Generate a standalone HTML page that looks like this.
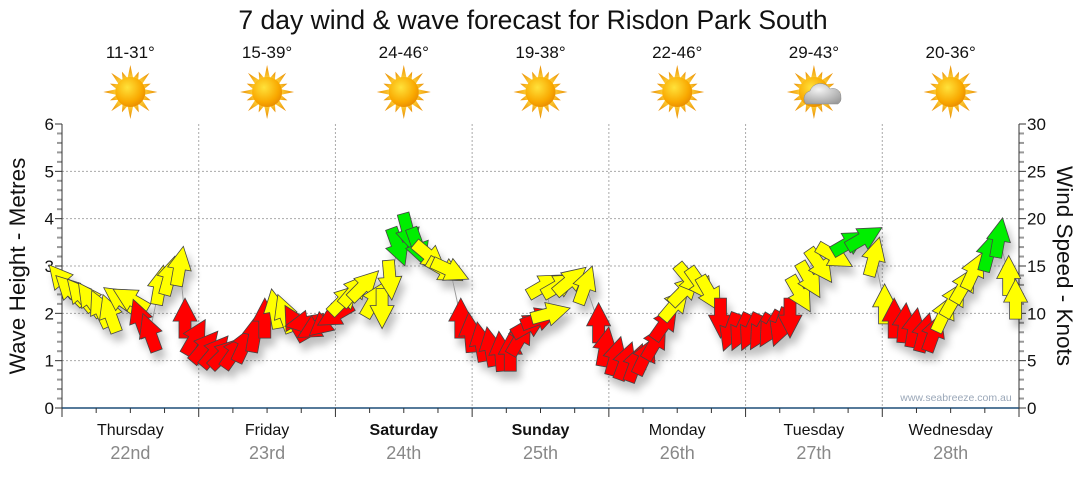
<!DOCTYPE html>
<html><head><meta charset="utf-8"><style>
body{margin:0;background:#fff;font-family:"Liberation Sans",sans-serif}
svg text{font-family:"Liberation Sans",sans-serif}
</style></head><body>
<svg id="c" width="1080" height="475" viewBox="0 0 1080 475" xmlns="http://www.w3.org/2000/svg">
<defs>
<filter id="sh" x="-50%" y="-50%" width="200%" height="200%"><feGaussianBlur in="SourceAlpha" stdDeviation="4"/><feOffset dx="4" dy="8"/><feComponentTransfer><feFuncA type="linear" slope="0.25"/></feComponentTransfer><feMerge><feMergeNode/><feMergeNode in="SourceGraphic"/></feMerge></filter>
<radialGradient id="sun" cx="0.4" cy="0.35" r="0.7"><stop offset="0" stop-color="#ffe23a"/><stop offset="0.7" stop-color="#f9a800"/><stop offset="1" stop-color="#e88a00"/></radialGradient>
<linearGradient id="ray" x1="0" y1="0" x2="0" y2="1"><stop offset="0" stop-color="#e88a00"/><stop offset="1" stop-color="#ffd23a"/></linearGradient>
<radialGradient id="cloud" cx="0.4" cy="0.3" r="0.8"><stop offset="0" stop-color="#f4f4f4"/><stop offset="1" stop-color="#9a9a9a"/></radialGradient>
</defs>
<text x="533" y="29" font-size="26.5" text-anchor="middle" fill="#111">7 day wind &amp; wave forecast for Risdon Park South</text>
<g id="grid"></g><g id="axes"></g><g id="marks" filter="url(#sh)"></g><g id="top"></g>
<text x="956" y="401" font-size="10.5" fill="#9aa7b8" text-anchor="middle">www.seabreeze.com.au</text>
<text transform="translate(25,266) rotate(-90)" font-size="22.5" text-anchor="middle" fill="#111">Wave Height - Metres</text>
<text transform="translate(1057,266) rotate(90)" font-size="22.5" text-anchor="middle" fill="#111">Wind Speed - Knots</text>
</svg>
<script>
const days=["Thursday","Friday","Saturday","Sunday","Monday","Tuesday","Wednesday"];
const dates=["22nd","23rd","24th","25th","26th","27th","28th"];
const temps=["11-31°","15-39°","24-46°","19-38°","22-46°","29-43°","20-36°"];
const cloudy=[false,false,false,false,false,true,false];
const boldDays=[false,false,true,true,false,false,false];
const leftTicks=[0,1,2,3,4,5,6];
const rightTicks=[0,5,10,15,20,25,30];
// wind time (hours from start), speed (knots), arrow direction (deg, 0=up)
const hours=[0,1.4,3.2,4.9,6.7,8.4,10.2,12,13.7,15.4,17.2,18.9,20.7,21.6,23.4,25.1,26.9,28.6,30.4,32.1,33.9,35.6,37.4,39.1,40.9,42.6,44.4,46.1,47.9,49.6,51.4,53.1,54.9,56.2,57.6,59,60.8,62.5,64.6,67.3,68.2,70,71.7,73.5,75.2,77,78.7,80.5,82.2,84,85.8,84.9,87.5,89.3,91.9,94.2,95.4,97.2,98.9,100.7,102.4,104.2,105.9,107.7,109.4,110.3,112.1,113.8,115.6,117.3,119.1,120.8,122.6,124.3,126.1,127.8,129.6,131.3,133.1,135.7,138.3,140.9,142.6,144.4,146.1,147.9,149.6,151.4,153.1,154.9,156.6,158.4,160.1,162.7,164.5,166.2,167.4];
const speeds=[13.5,12.5,12,11.5,10.5,10,11.5,11.5,9.5,8,13,14,15,9.5,7.5,6.5,6,5.8,6,6.8,8,9.5,10.5,10,9,9,8.5,9,9.8,11.5,12.5,13,11.5,10.5,13.5,17,18.5,17,16,14.5,14.5,9.5,8,7,6.5,6,6,7.5,8.8,9.5,10,13,13,13.5,13,9,6.5,5.5,5,4.8,5.5,7,9,11,12.5,13.5,13,12,9.5,8,8,8,8,8.3,8.5,9.5,12,13.5,15,16,17.5,18,16,11,9.5,9,8.5,8,8,10,11.5,13,14.5,16.5,18,14,11.5,9.5];
const dirs=[-40,-45,-40,-35,-25,-20,-55,-60,-20,-20,10,15,10,0,30,40,40,45,35,25,10,0,-10,-20,-30,-100,-120,-130,-120,45,40,45,30,180,175,160,165,160,130,120,115,0,-5,-10,-10,-5,0,30,60,70,75,60,60,50,20,0,10,15,20,20,25,30,35,40,45,140,145,150,180,200,205,205,210,210,200,180,150,150,145,120,60,60,15,0,0,5,10,15,20,25,30,30,25,15,10,0,0,0];

const X0=62,X1=1019,Y0=408,Y1=124,NS="http://www.w3.org/2000/svg";
const xH=h=>X0+(X1-X0)*h/168;
const yM=m=>Y0-(Y0-Y1)*m/6;
const yK=k=>Y0-(Y0-Y1)*k/30;
function mk(tag,attrs,parent){const e=document.createElementNS(NS,tag);for(const k in attrs)e.setAttribute(k,attrs[k]);parent.appendChild(e);return e;}
const grid=document.getElementById('grid'),axes=document.getElementById('axes'),marks=document.getElementById('marks'),top_=document.getElementById('top');
leftTicks.forEach(v=>{if(v>0&&v<6){const l=mk('line',{x1:X0,x2:X1,y1:yM(v),y2:yM(v),stroke:'#aaa','stroke-dasharray':'2,2'},grid);

}
const t=mk('text',{x:X0-8,y:yM(v)+6,'font-size':17,'text-anchor':'end',fill:'#111'},axes);t.textContent=v;

});
rightTicks.forEach(v=>{const t=mk('text',{x:X1+8,y:yK(v)+6,'font-size':17,fill:'#111'},axes);t.textContent=v;

});
for(let i=0;i<=30;i++){mk('line',{x1:X0-(i%5?5:7),x2:X0,y1:Y0-(Y0-Y1)*i/30,y2:Y0-(Y0-Y1)*i/30,stroke:i%5?'#999':'#333','stroke-width':i%5?2:1},axes);
mk('line',{x1:X1,x2:X1+(i%5?5:7),y1:yK(i),y2:yK(i),stroke:i%5?'#999':'#333','stroke-width':i%5?2:1},axes);}
mk('line',{x1:X0,x2:X0,y1:Y1,y2:Y0,stroke:'#333'},axes);
mk('line',{x1:X1,x2:X1,y1:Y1,y2:Y0,stroke:'#333'},axes);
mk('line',{x1:X0,x2:X1,y1:Y0,y2:Y0,stroke:'#1f4e79','stroke-width':1.5},axes);
for(let h=0;h<=168;h+=6){mk('line',{x1:xH(h),x2:xH(h),y1:Y0,y2:Y0+(h%24?5:9),stroke:'#333'},axes);}
days.forEach((d,i)=>{const cx=xH(i*24+12);
if(i>0){const g=mk('line',{x1:xH(i*24),x2:xH(i*24),y1:Y1,y2:Y0,stroke:'#aaa','stroke-dasharray':'2,2'},grid);

}
const t=mk('text',{x:cx,y:435,'font-size':16,'text-anchor':'middle',fill:'#111','font-weight':boldDays[i]?'bold':'normal'},axes);t.textContent=d;


const t2=mk('text',{x:cx,y:459,'font-size':18,'text-anchor':'middle',fill:'#888'},axes);t2.textContent=dates[i];


const t3=mk('text',{x:cx,y:58,'font-size':17,'text-anchor':'middle',fill:'#111'},top_);t3.textContent=temps[i];


const g=mk('g',{transform:`translate(${cx},92)`},top_);


for(let a=0;a<16;a++){const L=a%2?22:27;mk('polygon',{points:`-3,-13 0,-${L} 3,-13`,fill:'url(#ray)',transform:`rotate(${a*22.5})`},g);}
mk('circle',{r:15,fill:'url(#sun)'},g);
if(cloudy[i]){mk('path',{d:'M-8,12 a8,8 0 0 1 4,-13 a11,11 0 0 1 20,-2 a8,8 0 0 1 11,8 a7,7 0 0 1 -3,7 z',fill:'url(#cloud)',stroke:'#888','stroke-width':0.5},g);}
});
// connector line
let pd='';hours.forEach((h,i)=>{pd+=(i?'L':'M')+xH(h).toFixed(1)+','+yK(speeds[i]).toFixed(1);});
const ln=mk('path',{d:pd,fill:'none',stroke:'#999','stroke-width':1},marks);


const col=k=>k<10?'#ff0000':k<16.5?'#ffff00':'#00ee00';
hours.forEach((h,i)=>{
const a=mk('polygon',{points:'-6,20 -6,3 -12,3 0,-20 12,3 6,3 6,20',fill:col(speeds[i]),stroke:'#444','stroke-width':0.8,'stroke-linejoin':'miter',
transform:`translate(${xH(h).toFixed(1)},${yK(speeds[i]).toFixed(1)}) rotate(${dirs[i]})`},marks);


});
</script>
</body></html>
